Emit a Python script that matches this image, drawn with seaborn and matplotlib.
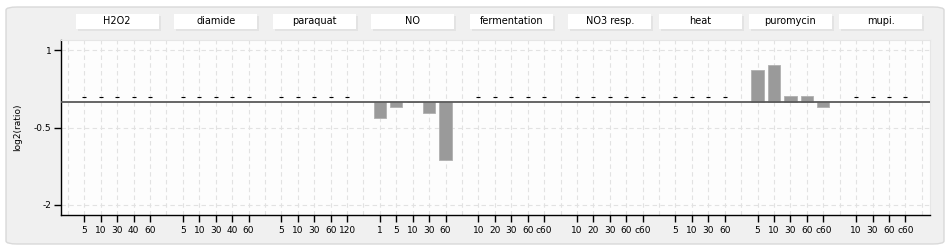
import numpy as np
import pandas as pd
import matplotlib
matplotlib.use("Agg")
import matplotlib.pyplot as plt
from matplotlib.patches import FancyBboxPatch, Rectangle
import seaborn as sns

groups = ["H2O2", "diamide", "paraquat", "NO", "fermentation", "NO3 resp.", "heat", "puromycin", "mupi."]
tp_h2o2 = ["5", "10", "30", "40", "60"]
tp_diamide = ["5", "10", "30", "40", "60"]
tp_paraquat = ["5", "10", "30", "60", "120"]
tp_no = ["1", "5", "10", "30", "60"]
tp_ferm = ["10", "20", "30", "60", "c60"]
tp_no3 = ["10", "20", "30", "60", "c60"]
tp_heat = ["5", "10", "30", "60"]
tp_puro = ["5", "10", "30", "60", "c60"]
tp_mupi = ["10", "30", "60", "c60"]

nan = np.nan
v_h2o2 = [nan, nan, nan, nan, nan]
v_diamide = [nan, nan, nan, nan, nan]
v_paraquat = [nan, nan, nan, nan, nan]
v_no = [-0.31, -0.11, -0.01, -0.22, -1.13]
v_ferm = [nan, nan, nan, nan, nan]
v_no3 = [nan, nan, nan, nan, nan]
v_heat = [nan, nan, nan, nan]
v_puro = [0.62, 0.72, 0.11, 0.11, -0.11]
v_mupi = [nan, nan, nan, nan]

timepoints = [tp_h2o2, tp_diamide, tp_paraquat, tp_no, tp_ferm, tp_no3, tp_heat, tp_puro, tp_mupi]
values = [v_h2o2, v_diamide, v_paraquat, v_no, v_ferm, v_no3, v_heat, v_puro, v_mupi]

# build table: each group gets consecutive slots, one empty slot between groups
rows = []
pos = 1
centers = []
for g, tps, vals in zip(groups, timepoints, values):
    start = pos
    for t, v in zip(tps, vals):
        rows.append({"group": g, "time": t, "pos": pos, "value": v})
        pos += 1
    centers.append((start + pos - 1) / 2)
    pos += 1
df = pd.DataFrame(rows)

W, H = 950, 250
fig = plt.figure(figsize=(W / 100, H / 100), dpi=100)
fig.patch.set_facecolor("white")

# outer rounded panel
panel = FancyBboxPatch((6 / W, 6 / H), (944 - 6) / W, (243 - 6) / H,
                       boxstyle="round,pad=0,rounding_size=0.012",
                       transform=fig.transFigure, facecolor="#f0f0f0",
                       edgecolor="#d9d9d9", linewidth=1.0, zorder=-10)
fig.patches.append(panel)

ax = fig.add_axes([61 / W, 35 / H, (930 - 61) / W, (215 - 40) / H])
ax.set_zorder(1)
ax.set_facecolor("#fdfdfd")

sns.barplot(data=df.dropna(subset=["value"]), x="pos", y="value", native_scale=True,
            width=0.75, color="#9a9a9a", saturation=1, edgecolor="#b0b0b0",
            linewidth=0.6, ax=ax, zorder=3, errorbar=None)

# missing-data dashes
miss = df[df["value"].isna()]
ax.plot(miss["pos"], np.full(len(miss), 0.09), linestyle="none", marker="_",
        markersize=3, markeredgewidth=0.8, color="black", zorder=4)

ax.axhline(0, color="#5a5a5a", linewidth=1.3, zorder=5)

ax.xaxis.remove_overlapping_locs = False
ax.set_xlim(-0.42, 52.5)
ax.set_ylim(-2.2, 1.2)
ax.set_xticks(df["pos"])
ax.set_xticklabels(df["time"], fontsize=6.5)
ax.set_xticks(np.arange(0, 53), minor=True)
ax.set_yticks([1, -0.5, -2])
ax.set_yticklabels(["1", "-0.5", "-2"], fontsize=6.5)
ax.tick_params(axis="x", which="major", length=5, width=1, color="black", pad=3)
ax.tick_params(axis="x", which="minor", length=0)
ax.tick_params(axis="y", length=5, width=1, color="black", pad=2)
ax.grid(axis="x", which="minor", linestyle=(0, (4, 3)), color="#e2e2e2", linewidth=0.8, zorder=0)
ax.grid(axis="y", which="major", linestyle=(0, (4, 3)), color="#e2e2e2", linewidth=0.8, zorder=0)
ax.grid(axis="x", which="major", visible=False)
ax.set_axisbelow(True)
ax.set_xlabel("")
ax.set_ylabel("log2(ratio)", fontsize=6.5, labelpad=8)
for s in ["top", "right"]:
    ax.spines[s].set_color("#e6e6e6")
for s in ["left", "bottom"]:
    ax.spines[s].set_color("black")
    ax.spines[s].set_linewidth(1.0)

# group label boxes
for g, c in zip(groups, centers):
    xc = ax.transData.transform((c, 0))[0]
    xf = fig.transFigure.inverted().transform((xc, 0))[0]
    bw = 83 / W
    bh = 15 / H
    y0 = (250 - 29) / H
    fig.patches.append(Rectangle((xf - bw / 2 + 2 / W, y0 - 2 / H), bw, bh,
                                 transform=fig.transFigure, facecolor="#e3e3e3",
                                 edgecolor="none", zorder=1))
    fig.patches.append(Rectangle((xf - bw / 2, y0), bw, bh, transform=fig.transFigure,
                                 facecolor="white", edgecolor="none", zorder=2))
    fig.text(xf, y0 + bh / 2 + 0.5 / H, g, ha="center", va="center", fontsize=7, zorder=3)

fig.savefig("out.png", dpi=100, facecolor=fig.get_facecolor())
